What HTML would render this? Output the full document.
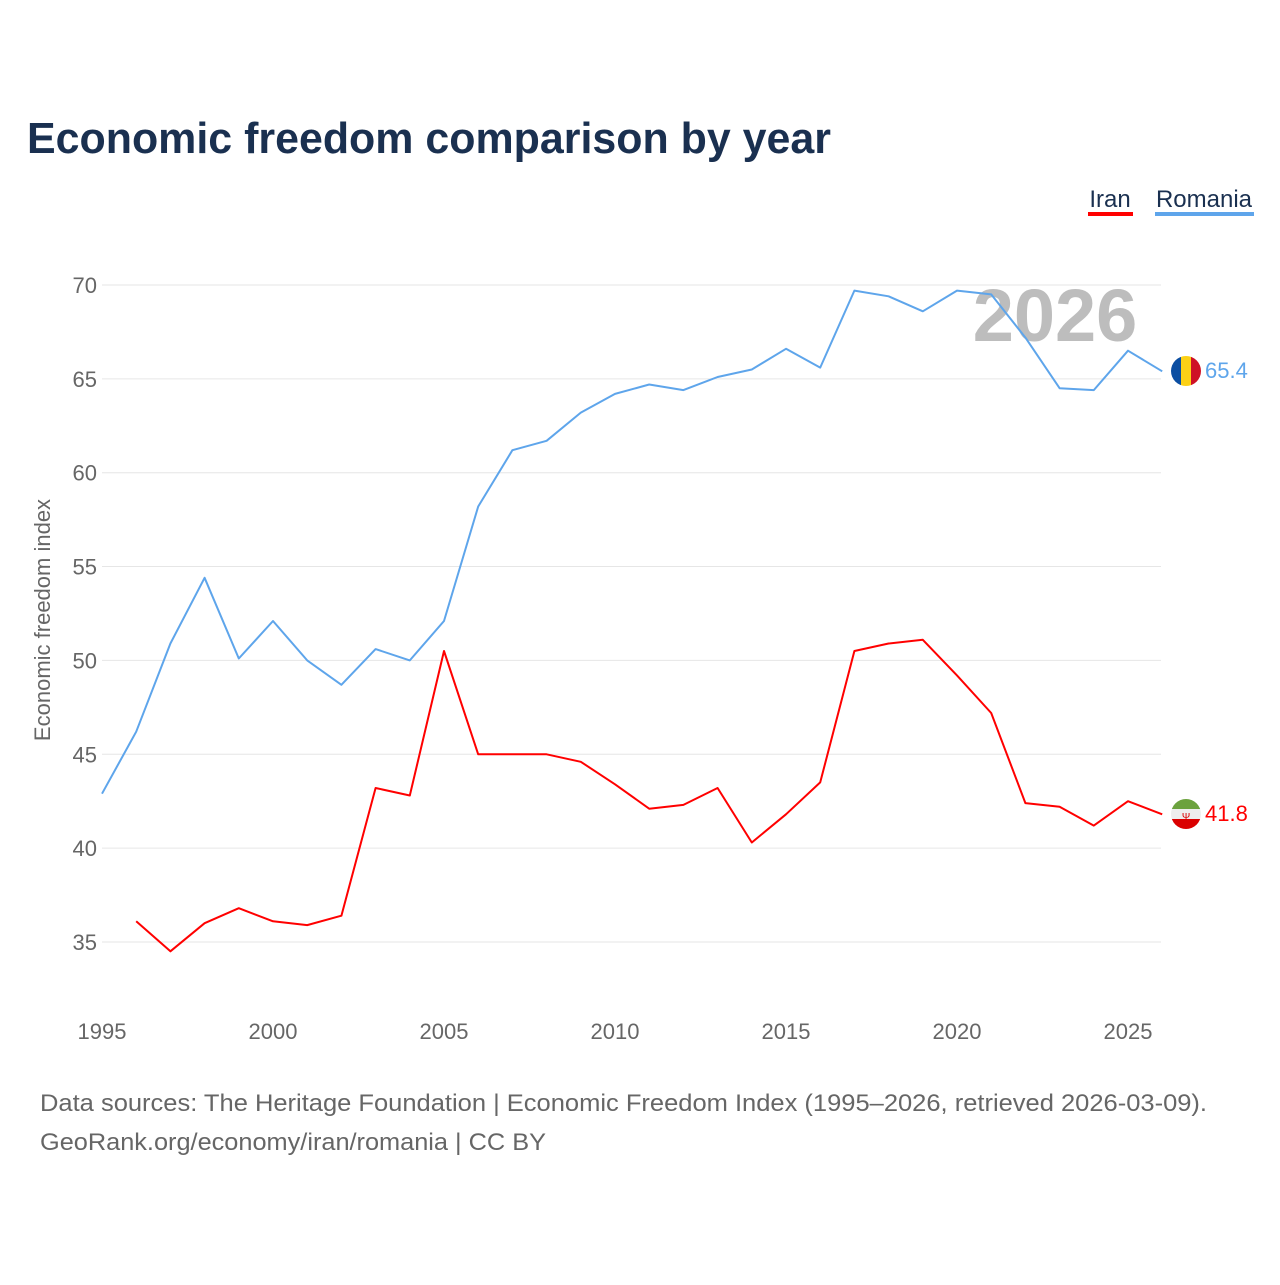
<!DOCTYPE html>
<html><head><meta charset="utf-8"><style>
body{margin:0;background:#fff;width:1280px;height:1280px;overflow:hidden;font-family:"Liberation Sans",sans-serif}
</style></head><body>
<svg width="1280" height="1280" xmlns="http://www.w3.org/2000/svg">
<text x="27" y="153" font-size="44" font-weight="bold" fill="#1a3050" textLength="804" lengthAdjust="spacingAndGlyphs">Economic freedom comparison by year</text>
<g>
<g><text x="1110" y="207" font-size="24" fill="#1a3050" text-anchor="middle">Iran</text><rect x="1088" y="212" width="45" height="4" fill="#ff0000"/></g>
<g><text x="1204" y="207" font-size="24" fill="#1a3050" text-anchor="middle">Romania</text><rect x="1155" y="212" width="99" height="4" fill="#5ea5eb"/></g>
</g>
<text x="1055" y="341" font-size="74" font-weight="bold" fill="#bdbdbd" text-anchor="middle">2026</text>
<g id="grid"></g>
<g id="yt"></g>
<g id="xt"></g>
<text transform="translate(50,620) rotate(-90)" font-size="22" fill="#666" text-anchor="middle">Economic freedom index</text>
<g id="series"></g>
<g>
<clipPath id="c1"><circle cx="1186" cy="371" r="15"/></clipPath>
<g clip-path="url(#c1)"><rect x="1171" y="356" width="10" height="30" fill="#0b4ea2"/><rect x="1181" y="356" width="10" height="30" fill="#fcd116"/><rect x="1191" y="356" width="10" height="30" fill="#ce1126"/></g>
<text x="1205" y="378" font-size="22" fill="#5ea5eb">65.4</text></g>
<g>
<clipPath id="c2"><circle cx="1186" cy="814" r="15"/></clipPath>
<g clip-path="url(#c2)"><rect x="1171" y="799" width="30" height="10" fill="#6ca23e"/><rect x="1171" y="809" width="30" height="10" fill="#eee"/><rect x="1171" y="819" width="30" height="10" fill="#da0000"/><text x="1186" y="820" font-size="10" fill="#da0000" text-anchor="middle">Ψ</text></g>
<text x="1205" y="821" font-size="22" fill="#ff0000">41.8</text></g>
<text x="40" y="1111" font-size="24" fill="#666" textLength="1167" lengthAdjust="spacingAndGlyphs">Data sources: The Heritage Foundation | Economic Freedom Index (1995–2026, retrieved 2026-03-09).</text>
<text x="40" y="1150" font-size="24" fill="#666" textLength="506" lengthAdjust="spacingAndGlyphs">GeoRank.org/economy/iran/romania | CC BY</text>
</svg>
<script>
const years=[1995,1996,1997,1998,1999,2000,2001,2002,2003,2004,2005,2006,2007,2008,2009,2010,2011,2012,2013,2014,2015,2016,2017,2018,2019,2020,2021,2022,2023,2024,2025,2026];
const romania=[42.9,46.2,50.9,54.4,50.1,52.1,50.0,48.7,50.6,50.0,52.1,58.2,61.2,61.7,63.2,64.2,64.7,64.4,65.1,65.5,66.6,65.6,69.7,69.4,68.6,69.7,69.5,67.2,64.5,64.4,66.5,65.4];
const iran=[null,36.1,34.5,36.0,36.8,36.1,35.9,36.4,43.2,42.8,50.5,45.0,45.0,45.0,44.6,43.4,42.1,42.3,43.2,40.3,41.8,43.5,50.5,50.9,51.1,49.2,47.2,42.4,42.2,41.2,42.5,41.8];
const yTicks=[35,40,45,50,55,60,65,70];
const xTicks=[1995,2000,2005,2010,2015,2020,2025];
const NS="http://www.w3.org/2000/svg";
const X=y=>102+(y-1995)*34.2;
const Y=v=>285+(70-v)*18.77;
function mk(t,a,p){const e=document.createElementNS(NS,t);for(const k in a)e.setAttribute(k,a[k]);p.appendChild(e);return e;}
const grid=document.getElementById('grid'),yt=document.getElementById('yt'),xt=document.getElementById('xt'),ser=document.getElementById('series');
yTicks.forEach(v=>{
 const l=mk('line',{x1:102,x2:1161,y1:Y(v),y2:Y(v),stroke:'#e6e6e6','stroke-width':1},grid);
 
 
 const t=mk('text',{x:97,y:Y(v)+8,'font-size':22,fill:'#666','text-anchor':'end'},yt);t.textContent=v;
 
 
});
xTicks.forEach(v=>{
 const t=mk('text',{x:X(v),y:1039,'font-size':22,fill:'#666','text-anchor':'middle'},xt);t.textContent=v;
 
 
});
function line(vals,color,name){
 let d='';vals.forEach((v,i)=>{if(v==null)return;d+=(d?'L':'M')+X(years[i]).toFixed(1)+','+Y(v).toFixed(1);});
 const p=mk('path',{d:d,fill:'none',stroke:color,'stroke-width':2,'stroke-linejoin':'round'},ser);
 
 
}
line(romania,'#5ea5eb','romania-line');
line(iran,'#ff0000','iran-line');
</script>
</body></html>
